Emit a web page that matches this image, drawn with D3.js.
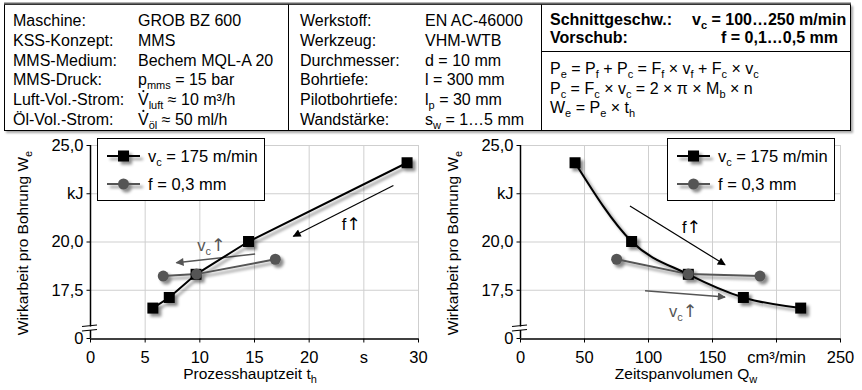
<!DOCTYPE html>
<html><head><meta charset="utf-8">
<script src="https://cdn.jsdelivr.net/npm/d3@7"></script>
<style>
body{margin:0;background:#fff}
svg{display:block}
text{font-family:"Liberation Sans",Arial,Helvetica,sans-serif;font-size:16px;fill:#000}
.arr{font-family:"DejaVu Sans",sans-serif}
</style>
</head><body>
<svg id="c" width="862" height="390"></svg>
<script>
// ---------------- data ----------------
// series "v_c = 175 m/min" (feed varied)
const vcTime = [29.0, 14.5, 9.7, 7.25, 5.75];      // t_h in s
const vcQ    = [43, 87.2, 131.5, 174.5, 219.3];     // Q_w in cm³/min
const vcWork = [24.08, 20.0, 18.3, 17.1, 16.55];    // W_e in kJ
// series "f = 0,3 mm" (cutting speed varied)
const fTime  = [16.95, 9.75, 6.7];
const fQ     = [75.5, 131.5, 187.5];
const fWork  = [19.08, 18.31, 18.21];
// axes
const yTicks      = [15, 17.5, 20, 22.5, 25];
const yTickLabels = ["0", "17,5", "20,0", "kJ", "25,0"];
const xTicksL      = [0, 5, 10, 15, 20, 25, 30];
const xTickLabelsL = ["0", "5", "10", "15", "20", "s", "30"];
const xTicksR      = [0, 50, 100, 150, 200, 250];
const xTickLabelsR = ["0", "50", "100", "150", "cm³/min", "250"];
const legendLabels = ["v_{c} = 175 m/min", "f = 0,3 mm"];
// table
const col1Labels = ["Maschine:", "KSS-Konzept:", "MMS-Medium:", "MMS-Druck:", "Luft-Vol.-Strom:", "Öl-Vol.-Strom:"];
const col1Values = ["GROB BZ 600", "MMS", "Bechem MQL-A 20", "p_{mms} = 15 bar", "V^_{luft} ≈ 10 m³/h", "V^_{öl} ≈ 50 ml/h"];
const col2Labels = ["Werkstoff:", "Werkzeug:", "Durchmesser:", "Bohrtiefe:", "Pilotbohrtiefe:", "Wandstärke:"];
const col2Values = ["EN AC-46000", "VHM-WTB", "d = 10 mm", "l = 300 mm", "l_{p} = 30 mm", "s_{w} = 1…5 mm"];
const col3Labels = ["Schnittgeschw.:", "Vorschub:"];
const col3Values = ["v_{c} = 100…250 m/min", "f = 0,1…0,5 mm"];
const formulas = ["P_{e} = P_{f} + P_{c} = F_{f} × v_{f} + F_{c} × v_{c}",
                  "P_{c} = F_{c} × v_{c} = 2 × π × M_{b} × n",
                  "W_{e} = P_{e} × t_{h}"];

// ---------------- helpers ----------------
const svg = d3.select("#c");
const defs = svg.append("defs");
const sh = defs.append("filter").attr("id","sh").attr("x","-50%").attr("y","-50%").attr("width","200%").attr("height","200%");
sh.append("feDropShadow").attr("dx",3).attr("dy",3).attr("stdDeviation",1.8).attr("flood-color","#000").attr("flood-opacity",0.45);
const sh2 = defs.append("filter").attr("id","sh2").attr("x","-5%").attr("y","-5%").attr("width","110%").attr("height","110%");
sh2.append("feDropShadow").attr("dx",2).attr("dy",2).attr("stdDeviation",0.8).attr("flood-color","#000").attr("flood-opacity",0.35);
function mk(id, col){
  defs.append("marker").attr("id",id).attr("viewBox","0 0 10 10").attr("refX",9).attr("refY",5)
    .attr("markerWidth",11).attr("markerHeight",8).attr("markerUnits","userSpaceOnUse").attr("orient","auto")
    .append("path").attr("d","M0,0 L10,5 L0,10 Z").attr("fill",col);
}
mk("ab","#000"); mk("ag","#555");

// mini markup: _{sub}; leading "V^" = V with dot above (V̇); ↑ drawn in arrow font
function rich(g, x, y, str, opt={}){
  const fs = opt.size || 16;
  let dotted = false;
  if (str.startsWith("V^")) { dotted = true; str = "V" + str.slice(2); }
  const t = g.append("text").attr("x",x).attr("y",y).style("font-size",fs+"px");
  if (opt.anchor) t.attr("text-anchor",opt.anchor);
  if (opt.weight) t.attr("font-weight",opt.weight);
  if (opt.fill) t.style("fill",opt.fill);
  if (opt.transform) t.attr("transform",opt.transform);
  const tokens = str.split(/(_\{[^}]*\}|↑)/).filter(s=>s!=="");
  let shift = 0;
  tokens.forEach(tok=>{
    if (tok.startsWith("_{")){
      t.append("tspan").attr("dy",Math.round(fs*0.27)-shift).style("font-size",Math.round(fs*0.68)+"px").text(tok.slice(2,-1));
      shift = Math.round(fs*0.27);
    } else if (tok === "↑"){
      t.append("tspan").attr("class","arr").attr("dy",-shift).style("font-size",(fs+1)+"px").text(tok);
      shift = 0;
    } else {
      t.append("tspan").attr("dy",-shift).text(tok); shift = 0;
    }
  });
  if (dotted) g.append("circle").attr("cx",x+fs*0.335).attr("cy",y-fs*0.88).attr("r",1.1).attr("fill","#000");
  return t;
}

// ---------------- table ----------------
const tb = svg.append("g");
tb.append("rect").attr("x",4.5).attr("y",4.5).attr("width",846).attr("height",126)
  .attr("fill","#fff").attr("stroke","#000").attr("filter","url(#sh2)");
tb.append("line").attr("x1",4).attr("x2",851).attr("y1",3.5).attr("y2",3.5).attr("stroke","#666").attr("stroke-width",2);
tb.append("line").attr("x1",288.5).attr("x2",288.5).attr("y1",4.5).attr("y2",130.5).attr("stroke","#000");
tb.append("line").attr("x1",541.5).attr("x2",541.5).attr("y1",4.5).attr("y2",130.5).attr("stroke","#000");
tb.append("line").attr("x1",541.5).attr("x2",850.5).attr("y1",51.5).attr("y2",51.5).attr("stroke","#000");
const rowY = i => 26 + i*19.8;
col1Labels.forEach((s,i)=>rich(tb,13,rowY(i),s));
col1Values.forEach((s,i)=>rich(tb,138,rowY(i),s));
col2Labels.forEach((s,i)=>rich(tb,300,rowY(i),s));
col2Values.forEach((s,i)=>rich(tb,425,rowY(i),s));
col3Labels.forEach((s,i)=>rich(tb,550,25+i*18,s,{weight:"bold"}));
rich(tb,692,25,col3Values[0],{weight:"bold"});
rich(tb,721,43,col3Values[1],{weight:"bold"});
formulas.forEach((s,i)=>rich(tb,550,74+i*19.5,s));

// ---------------- charts ----------------
const yS = d3.scaleLinear().domain([15,25]).range([338,145]);

function chart(opt){
  const g = svg.append("g");
  const x = opt.x, X0 = x.range()[0], X1 = x.range()[1], Y0 = yS.range()[0], Y1 = yS.range()[1];
  // grid
  g.append("g").selectAll("line").data(opt.xTicks.filter(d=>d!==0)).join("line")
    .attr("x1",d=>x(d)+0.5).attr("x2",d=>x(d)+0.5).attr("y1",Y1).attr("y2",Y0).attr("stroke","#cfcfcf");
  g.append("g").selectAll("line").data(yTicks.filter(d=>d!==15)).join("line")
    .attr("x1",X0).attr("x2",X1).attr("y1",d=>yS(d)+0.5).attr("y2",d=>yS(d)+0.5).attr("stroke","#cfcfcf");
  // axes
  const ax = g.append("g").attr("transform",`translate(0,${Y0+0.5})`)
    .call(d3.axisBottom(x).tickValues(opt.xTicks).tickFormat((d,i)=>opt.xLabels[i]).tickSize(4).tickSizeOuter(0));
  ax.select(".domain").attr("stroke","#000").attr("stroke-width",1.5);
  ax.selectAll(".tick text").attr("dy","0.35em").attr("y",19).style("font-size","16.5px");
  ax.attr("font-family",null).attr("font-size",null);
  const ay = g.append("g").attr("transform",`translate(${X0+0.5},0)`)
    .call(d3.axisLeft(yS).tickValues(yTicks).tickFormat((d,i)=>yTickLabels[i]).tickSize(4).tickSizeOuter(0));
  ay.select(".domain").remove();
  ay.selectAll(".tick text").attr("x",-7).style("font-size","16.5px");
  ay.attr("font-family",null).attr("font-size",null);
  // y axis with break
  g.append("line").attr("x1",X0+0.5).attr("x2",X0+0.5).attr("y1",Y1).attr("y2",326.5).attr("stroke","#000").attr("stroke-width",1.5);
  g.append("line").attr("x1",X0+0.5).attr("x2",X0+0.5).attr("y1",330).attr("y2",Y0).attr("stroke","#000").attr("stroke-width",1.5);
  g.append("line").attr("x1",X0-8).attr("x2",X0+7).attr("y1",326.5).attr("y2",325).attr("stroke","#000").attr("stroke-width",1.2);
  g.append("line").attr("x1",X0-8).attr("x2",X0+7).attr("y1",331).attr("y2",329.5).attr("stroke","#000").attr("stroke-width",1.2);
  // axis titles
  rich(g, opt.xTitleX, 379, opt.xTitle, {anchor:"middle", size:15.5});
  rich(g, 0, 0, "Wirkarbeit pro Bohrung W_{e}", {anchor:"middle", size:15.5, transform:`translate(${X0-62},243) rotate(-90)`});
  // arrows
  opt.arrows.forEach(a=>{
    g.append("line").attr("x1",x(a.x1)).attr("y1",yS(a.y1)).attr("x2",x(a.x2)).attr("y2",yS(a.y2))
      .attr("stroke",a.col).attr("stroke-width",a.w).attr("marker-end",`url(#${a.m})`);
    rich(g, x(a.lx), yS(a.ly)+6, a.label, {anchor:"middle", fill:a.col, size:16.5});
  });
  // series
  const sg = g.append("g").attr("filter","url(#sh)");
  const fPts = opt.fX.map((v,i)=>[x(v), yS(fWork[i])]);
  const vPts = opt.vX.map((v,i)=>[x(v), yS(vcWork[i])]);
  sg.append("path").attr("d", d3.line().curve(d3.curveLinear)(fPts)).attr("fill","none").attr("stroke","#555").attr("stroke-width",2);
  sg.append("path").attr("d", d3.line().curve(opt.curve)(vPts)).attr("fill","none").attr("stroke","#000").attr("stroke-width",2);
  sg.selectAll("rect.m").data(vPts).join("rect").attr("class","m")
    .attr("x",d=>d[0]-5.5).attr("y",d=>d[1]-5.5).attr("width",11).attr("height",11).attr("fill","#000");
  sg.selectAll("circle.m").data(fPts).join("circle").attr("class","m")
    .attr("cx",d=>d[0]).attr("cy",d=>d[1]).attr("r",5.5).attr("fill","#555");
  // legend
  const L = g.append("g").attr("transform",`translate(${opt.legX},138)`);
  L.append("rect").attr("x",0.5).attr("y",0.5).attr("width",167).attr("height",62).attr("fill","#fff").attr("stroke","#000");
  const lg = L.append("g").attr("filter","url(#sh)");
  lg.append("line").attr("x1",10).attr("x2",43).attr("y1",18).attr("y2",18).attr("stroke","#000").attr("stroke-width",2);
  lg.append("rect").attr("x",21).attr("y",12.5).attr("width",11).attr("height",11).attr("fill","#000");
  lg.append("line").attr("x1",10).attr("x2",43).attr("y1",46).attr("y2",46).attr("stroke","#555").attr("stroke-width",2);
  lg.append("circle").attr("cx",26.5).attr("cy",46).attr("r",5.5).attr("fill","#555");
  rich(L, 51, 24, legendLabels[0], {size:16.5});
  rich(L, 51, 52, legendLabels[1], {size:16.5});
}

chart({
  x: d3.scaleLinear().domain([0,30]).range([90,418]),
  xTicks: xTicksL, xLabels: xTickLabelsL, xTitle: "Prozesshauptzeit t_{h}", xTitleX: 250,
  vX: vcTime, fX: fTime, curve: d3.curveLinear, legX: 97,
  arrows: [
    {x1:27.75,y1:22.9,x2:18.6,y2:20.27,col:"#000",w:1.2,m:"ab",lx:23.9,ly:20.9,label:"f↑"},
    {x1:15.1,y1:19.35,x2:7.9,y2:18.9,col:"#555",w:1.5,m:"ag",lx:11.1,ly:19.8,label:"v_{c}↑"}
  ]
});
chart({
  x: d3.scaleLinear().domain([0,250]).range([520,840]),
  xTicks: xTicksR, xLabels: xTickLabelsR, xTitle: "Zeitspanvolumen Q_{w}", xTitleX: 686,
  vX: vcQ, fX: fQ, curve: d3.curveMonotoneX, legX: 667,
  arrows: [
    {x1:85.9,y1:21.84,x2:160.2,y2:18.79,col:"#000",w:1.2,m:"ab",lx:134,ly:20.77,label:"f↑"},
    {x1:97.7,y1:17.45,x2:160.2,y2:17.12,col:"#555",w:1.5,m:"ag",lx:127.6,ly:16.38,label:"v_{c}↑"}
  ]
});
</script>
</body></html>
